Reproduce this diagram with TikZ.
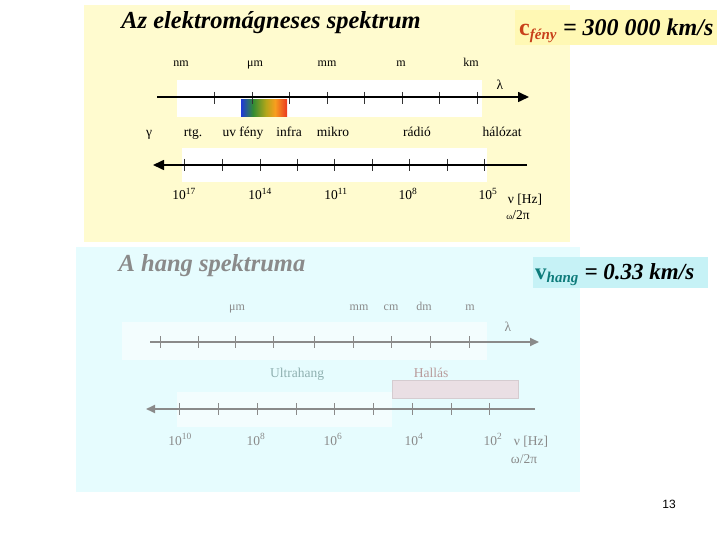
\documentclass[tikz,border=0pt]{standalone}
\usepackage{fontspec}
\setmainfont{Liberation Serif}
\newfontfamily\sansf{Liberation Sans}
\usetikzlibrary{arrows.meta}
\definecolor{panelY}{HTML}{FFFBCF}
\definecolor{boxY}{HTML}{FFF8B4}
\definecolor{panelC}{HTML}{E6FCFE}
\definecolor{boxC}{HTML}{C6F2F6}
\definecolor{cred}{HTML}{C8401A}
\definecolor{vteal}{HTML}{0E7C7B}
\definecolor{sgrey}{HTML}{8A8A8A}
\definecolor{ultra}{HTML}{8FB0B0}
\definecolor{hall}{HTML}{B89A9A}
\definecolor{hallbox}{HTML}{EADFE4}
\pgfdeclarehorizontalshading{visspec}{100bp}{
  rgb(0bp)=(0.12,0.22,0.85);
  rgb(25bp)=(0.12,0.22,0.85);
  rgb(38bp)=(0.20,0.55,0.20);
  rgb(52bp)=(0.70,0.65,0.10);
  rgb(62bp)=(0.97,0.62,0.12);
  rgb(75bp)=(0.92,0.22,0.12);
  rgb(100bp)=(0.92,0.22,0.12)}
\tikzset{
  ttl/.style={font=\fontsize{24.5}{27}\selectfont\bfseries\itshape, inner sep=0pt, anchor=base},
  lbl/.style={font=\fontsize{12}{14}\selectfont, inner sep=0pt, anchor=base},
  lblb/.style={font=\fontsize{13.5}{15}\selectfont, inner sep=0pt, anchor=base},
  lblc/.style={font=\fontsize{13.5}{15}\selectfont, inner sep=0pt, anchor=base},
  axisT/.style={line width=1.6pt, black},
  tickT/.style={line width=0.8pt, black!80},
  axisB/.style={line width=1.8pt, sgrey},
  tickB/.style={line width=0.7pt, sgrey},
  band/.style={fill=white, draw=none},
}
\begin{document}
\begin{tikzpicture}[x=1pt,y=-1pt]
\useasboundingbox (0,0) rectangle (720,540);
\fill[white] (0,0) rectangle (720,540);
% ---------- top panel ----------
\fill[panelY] (84,5) rectangle (570,242);
\node[ttl] (t1) at (271,29) {Az elektromágneses spektrum};
\fill[boxY] (515,10) rectangle (717,45);
\node[inner sep=0pt, anchor=base west] (cf) at (519,36) {\fontsize{24}{26}\selectfont\bfseries\itshape{\color{cred}\upshape c\textsubscript{\itshape\fontsize{15}{16}\selectfont fény}} = 300 000 km/s};
\fill[band] (177,80) rectangle (482,117);
\node[lbl] (nm) at (181,67) {nm};
\node[lbl] (um) at (255,67) {μm};
\node[lbl] (mm) at (327,67) {mm};
\node[lbl] (m) at (401,67) {m};
\node[lbl] (km) at (471,67) {km};
\node[lblb] (lam1) at (500,90) {λ};
\coordinate (a1s) at (157,97);
\coordinate (a1e) at (529,97);
\shade[shading=visspec] (241,100) rectangle (287,117);
\foreach \x in {214,252,289,327,364,402,439,477}
  \draw[tickT] (\x,92) -- (\x,104);
\draw[axisT,-{Triangle[length=11pt,width=10pt]}] (a1s) -- (a1e);
\node[lblb] (gam) at (149,137) {γ};
\node[lblb] (rtg) at (193,137) {rtg.};
\node[lblb] (uv) at (243,137) {uv fény};
\node[lblb] (inf) at (289,137) {infra};
\node[lblb] (mik) at (333,137) {mikro};
\node[lblb] (rad) at (417,137) {rádió};
\node[lblb] (hal) at (502,137) {hálózat};
\fill[band] (182,148) rectangle (487,182);
\coordinate (a2s) at (527,165);
\coordinate (a2e) at (153,165);
\foreach \x in {184,222,260,297,334,372,409,447,484}
  \draw[tickT] (\x,159) -- (\x,171);
\draw[axisT,-{Triangle[length=11pt,width=10pt]}] (a2s) -- (a2e);
\node[lblc] (f17) at (184,200) {10\textsuperscript{17}};
\node[lblc] (f14) at (260,200) {10\textsuperscript{14}};
\node[lblc] (f11) at (336,200) {10\textsuperscript{11}};
\node[lblc] (f8) at (408,200) {10\textsuperscript{8}};
\node[lblc] (f5) at (488,200) {10\textsuperscript{5}};
\node[lblc] (nu1) at (525,204) {ν [Hz]};
\node[lblc] (om1) at (518,220) {{\fontsize{9}{10}\selectfont ω}/2π};
% ---------- bottom panel ----------
\fill[panelC] (76,247) rectangle (580,492);
\node[ttl, text=sgrey] (t2) at (212,271) {A hang spektruma};
\fill[boxC] (533,257) rectangle (708,288);
\node[inner sep=0pt, anchor=base west] (vh) at (535,279) {\fontsize{23}{25}\selectfont\bfseries\itshape{\color{vteal}\upshape v\textsubscript{\itshape\fontsize{15}{16}\selectfont hang}} = 0.33 km/s};
\fill[white, opacity=0.55] (122,322) rectangle (487,360);
\node[lbl, text=sgrey] (um2) at (237,310) {μm};
\node[lbl, text=sgrey] (mm2) at (359,310) {mm};
\node[lbl, text=sgrey] (cm2) at (391,310) {cm};
\node[lbl, text=sgrey] (dm2) at (424,310) {dm};
\node[lbl, text=sgrey] (m2) at (470,310) {m};
\node[lblb, text=sgrey] (lam2) at (508,331) {λ};
\coordinate (b1s) at (150,342);
\coordinate (b1e) at (539,342);
\foreach \x in {160,198,235,273,314,353,391,430,469}
  \draw[tickB] (\x,336) -- (\x,348);
\draw[axisB,-{Triangle[length=9pt,width=8pt]}] (b1s) -- (b1e);
\node[lblb, text=ultra] (ult) at (297,377) {Ultrahang};
\node[lblb, text=hall] (hll) at (431,377) {Hallás};
\draw[hallbox!80!gray, fill=hallbox] (392,380) rectangle (518,398);
\fill[white, opacity=0.55] (177,392) rectangle (392,427);
\coordinate (b2s) at (535,409);
\coordinate (b2e) at (146,409);
\foreach \x in {179,218,257,296,334,373,412,451,489}
  \draw[tickB] (\x,403) -- (\x,415);
\draw[axisB,-{Triangle[length=9pt,width=8pt]}] (b2s) -- (b2e);
\node[lblc, text=sgrey] (g10) at (180,445) {10\textsuperscript{10}};
\node[lblc, text=sgrey] (g8) at (256,445) {10\textsuperscript{8}};
\node[lblc, text=sgrey] (g6) at (333,445) {10\textsuperscript{6}};
\node[lblc, text=sgrey] (g4) at (414,445) {10\textsuperscript{4}};
\node[lblc, text=sgrey] (g2) at (493,445) {10\textsuperscript{2}};
\node[lblc, text=sgrey] (nu2) at (531,445) {ν [Hz]};
\node[lblc, text=sgrey] (om2) at (524,463) {ω/2π};
% page number
\node[inner sep=0pt, font=\sansf\fontsize{12}{14}\selectfont] (pg) at (669,504) {13};
\end{tikzpicture}
\end{document}
